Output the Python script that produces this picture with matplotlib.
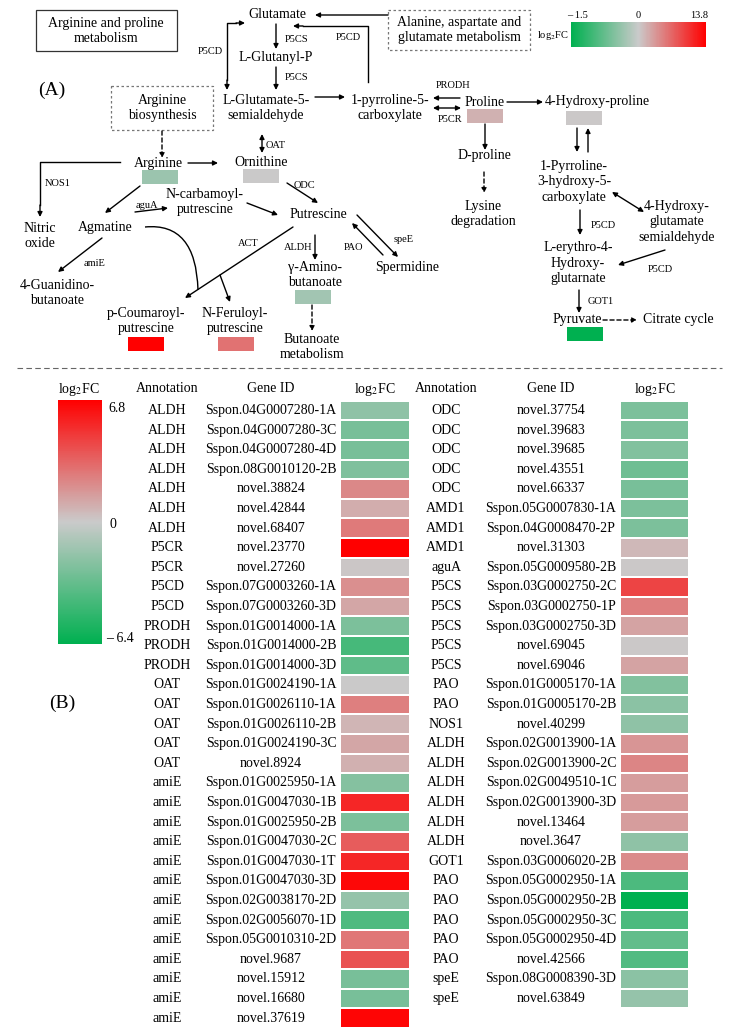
import numpy as np
import matplotlib
matplotlib.use("Agg")
import matplotlib.pyplot as plt
from matplotlib.colors import LinearSegmentedColormap, TwoSlopeNorm
from matplotlib.patches import Rectangle, PathPatch
from matplotlib.path import Path
from matplotlib.cm import ScalarMappable
import matplotlib.transforms as mtransforms

plt.rcParams['font.family'] = ['Liberation Serif', 'DejaVu Serif']
plt.rcParams['mathtext.fontset'] = 'stix'

# ---- data: table (B), left half
left_annot = ["ALDH"] * 7 + ["P5CR"] * 2 + ["P5CD"] * 2 + ["PRODH"] * 3 + ["OAT"] * 5 + ["amiE"] * 13
left_gene = ["Sspon.04G0007280-1A", "Sspon.04G0007280-3C", "Sspon.04G0007280-4D", "Sspon.08G0010120-2B",
             "novel.38824", "novel.42844", "novel.68407", "novel.23770", "novel.27260",
             "Sspon.07G0003260-1A", "Sspon.07G0003260-3D", "Sspon.01G0014000-1A", "Sspon.01G0014000-2B",
             "Sspon.01G0014000-3D", "Sspon.01G0024190-1A", "Sspon.01G0026110-1A", "Sspon.01G0026110-2B",
             "Sspon.01G0024190-3C", "novel.8924", "Sspon.01G0025950-1A", "Sspon.01G0047030-1B",
             "Sspon.01G0025950-2B", "Sspon.01G0047030-2C", "Sspon.01G0047030-1T", "Sspon.01G0047030-3D",
             "Sspon.02G0038170-2D", "Sspon.02G0056070-1D", "Sspon.05G0010310-2D", "novel.9687",
             "novel.15912", "novel.16680", "novel.37619"]
left_fc = [-1.9, -2.6, -2.6, -2.4, 2.2, 1.0, 2.7, 6.8, 0.15, 2.0, 1.2, -2.5, -4.2, -3.4, 0.0, 2.5,
           0.7, 1.2, 0.9, -2.2, 5.5, -2.5, 3.7, 5.5, 6.5, -1.7, -3.9, 2.8, 4.0, -2.6, -2.6, 6.6]

# ---- data: table (B), right half
right_annot = ["ODC"] * 5 + ["AMD1"] * 3 + ["aguA"] + ["P5CS"] * 5 + ["PAO"] * 2 + ["NOS1"] + \
              ["ALDH"] * 6 + ["GOT1"] + ["PAO"] * 5 + ["speE"] * 2
right_gene = ["novel.37754", "novel.39683", "novel.39685", "novel.43551", "novel.66337",
              "Sspon.05G0007830-1A", "Sspon.04G0008470-2P", "novel.31303", "Sspon.05G0009580-2B",
              "Sspon.03G0002750-2C", "Sspon.03G0002750-1P", "Sspon.03G0002750-3D", "novel.69045",
              "novel.69046", "Sspon.01G0005170-1A", "Sspon.01G0005170-2B", "novel.40299",
              "Sspon.02G0013900-1A", "Sspon.02G0013900-2C", "Sspon.02G0049510-1C", "Sspon.02G0013900-3D",
              "novel.13464", "novel.3647", "Sspon.03G0006020-2B", "Sspon.05G0002950-1A",
              "Sspon.05G0002950-2B", "Sspon.05G0002950-3C", "Sspon.05G0002950-4D", "novel.42566",
              "Sspon.08G0008390-3D", "novel.63849"]
right_fc = [-2.5, -2.5, -2.3, -2.9, -2.6, -2.5, -2.5, 0.6, 0.1, 4.5, 2.5, 1.3, 0.1, 1.3, -2.3, -2.0,
            -1.9, 1.8, 2.3, 1.5, 1.6, 1.5, -1.9, 2.1, -4.0, -6.4, -4.0, -3.3, -3.8, -2.0, -1.7]

# ---- data: metabolite boxes in the pathway (A)
met_names = ["Arginine", "Ornithine", "Proline", "4-Hydroxy-proline", "gamma-Aminobutanoate",
             "p-Coumaroyl-putrescine", "N-Feruloyl-putrescine", "Pyruvate"]
met_fc = [-0.35, 0.0, 1.7, 0.2, -0.3, 13.8, 6.0, -1.5]

cmap = LinearSegmentedColormap.from_list("gr", ["#00b050", "#cacaca", "#ff0000"])
norm_top = TwoSlopeNorm(vmin=-1.5, vcenter=0, vmax=13.8)
norm_tab = TwoSlopeNorm(vmin=-6.4, vcenter=0, vmax=6.8)

W, H = 730, 1036
fig = plt.figure(figsize=(W / 100, H / 100), dpi=100)
ax = fig.add_axes([0, 0, 1, 1])
ax.set_xlim(0, W)
ax.set_ylim(H, 0)
ax.axis('off')


def px(x0, y0, x1, y1):
    return [x0 / W, 1 - y1 / H, (x1 - x0) / W, (y1 - y0) / H]


def txt(x, y, s, size=10, **kw):
    ax.text(x, y, s, ha='center', va='center', fontsize=size, linespacing=1.25, **kw)


def arrow(p, q, style='-|>', ls='-'):
    ax.annotate('', xy=q, xytext=p,
                arrowprops=dict(arrowstyle=style, color='k', lw=1.0, linestyle=ls,
                                shrinkA=0, shrinkB=0, mutation_scale=7))


def line(xs, ys):
    ax.plot(xs, ys, color='k', lw=1.0)


# ---- pathway (A)
ax.add_patch(Rectangle((36, 10), 141, 41, fill=False, lw=0.9, ec='#333333'))
txt(106, 31, "Arginine and proline\nmetabolism")
ax.add_patch(Rectangle((388, 10), 142, 40, fill=False, lw=0.9, ec='#777777', ls=(0, (2, 2))))
txt(459, 30, "Alanine, aspartate and\nglutamate metabolism")
ax.add_patch(Rectangle((111, 86), 102, 44, fill=False, lw=0.9, ec='#777777', ls=(0, (2, 2))))
txt(162, 108, "Arginine\nbiosynthesis")
txt(52, 90, "(A)", size=14)

nodes = [
    (277, 15, "Glutamate"), (276, 58, "L-Glutanyl-P"), (266, 108, "L-Glutamate-5-\nsemialdehyde"),
    (390, 108, "1-pyrroline-5-\ncarboxylate"), (485, 102, "Proline"), (597, 102, "4-Hydroxy-proline"),
    (484, 155, "D-proline"), (483, 214, "Lysine\ndegradation"),
    (574, 182, "1-Pyrroline-\n3-hydroxy-5-\ncarboxylate"), (677, 222, "4-Hydroxy-\nglutamate\nsemialdehyde"),
    (578, 263, "L-erythro-4-\nHydroxy-\nglutarnate"), (577, 320, "Pyruvate"), (678, 320, "Citrate cycle"),
    (158, 163, "Arginine"), (261, 163, "Ornithine"), (205, 202, "N-carbamoyl-\nputrescine"),
    (318, 215, "Putrescine"), (105, 228, "Agmatine"), (40, 236, "Nitric\noxide"),
    (57, 293, "4-Guanidino-\nbutanoate"), (315, 275, "γ-Amino-\nbutanoate"), (407, 267, "Spermidine"),
    (146, 321, "p-Coumaroyl-\nputrescine"), (235, 321, "N-Feruloyl-\nputrescine"),
    (312, 347, "Butanoate\nmetabolism"),
]
for x, y, s in nodes:
    txt(x, y, s)

enzymes = [
    (297, 40, "P5CS"), (297, 78, "P5CS"), (210, 52, "P5CD"), (348, 38, "P5CD"), (453, 86, "PRODH"),
    (450, 119, "P5CR"), (276, 146, "OAT"), (58, 183, "NOS1"), (147, 206, "aguA"), (304, 185, "ODC"),
    (95, 264, "amiE"), (248, 244, "ACT"), (298, 248, "ALDH"), (354, 247, "PAO"), (404, 240, "speE"),
    (603, 225, "P5CD"), (660, 269, "P5CD"), (601, 302, "GOT1"),
]
for x, y, s in enzymes:
    txt(x, y, s, size=7.5)

# metabolite boxes
box_pos = {
    "Arginine": (142, 170), "Ornithine": (243, 169), "Proline": (467, 109),
    "4-Hydroxy-proline": (566, 111), "gamma-Aminobutanoate": (295, 290),
    "p-Coumaroyl-putrescine": (128, 337), "N-Feruloyl-putrescine": (218, 337), "Pyruvate": (567, 327),
}
for name, v in zip(met_names, met_fc):
    bx, by = box_pos[name]
    ax.add_patch(Rectangle((bx, by), 36, 14, facecolor=cmap(norm_top(v)), edgecolor='none'))

# arrows
arrow((276, 24), (276, 49))
arrow((276, 67), (276, 90))
line([236, 227, 227], [23, 23, 80])
arrow((236, 23), (245, 23))
arrow((227, 80), (227, 90))
line([368, 368, 303], [82, 26, 26])
arrow((303, 26), (293, 26))
arrow((388, 15), (315, 15))
arrow((315, 97), (345, 97))
arrow((460, 98), (433, 98))
arrow((433, 108), (461, 108), style='<|-|>')
arrow((507, 102), (543, 102))
arrow((485, 124), (485, 150))
arrow((484, 172), (484, 193), ls=(0, (3, 2)))
arrow((577, 128), (577, 152))
arrow((588, 152), (588, 128))
arrow((612, 192), (644, 212), style='<|-|>')
arrow((580, 210), (580, 235))
arrow((665, 250), (618, 265))
arrow((579, 290), (579, 313))
arrow((603, 320), (637, 320), ls=(0, (3, 2)))
arrow((162, 131), (162, 158), ls=(0, (3, 2)))
arrow((188, 163), (218, 163))
arrow((262, 134), (262, 153), style='<|-|>')
line([120, 40, 40], [162, 162, 205])
arrow((40, 205), (40, 217))
arrow((140, 186), (105, 213))
arrow((135, 212), (168, 208))
arrow((247, 203), (278, 215))
arrow((287, 183), (318, 203))
arrow((102, 238), (58, 272))
curve = Path([(145, 227), (196, 222), (198, 290)], [Path.MOVETO, Path.CURVE3, Path.CURVE3])
ax.add_patch(PathPatch(curve, fill=False, lw=1.0, ec='k'))
arrow((293, 227), (185, 298))
arrow((220, 275), (230, 302))
arrow((315, 235), (315, 260))
arrow((312, 305), (312, 331), ls=(0, (3, 2)))
arrow((383, 255), (352, 223))
arrow((357, 215), (398, 257))

# top colour bar
cax1 = fig.add_axes(px(571, 22, 706, 47))
cb1 = fig.colorbar(ScalarMappable(norm=norm_top, cmap=cmap), cax=cax1, orientation='horizontal')
cb1.outline.set_visible(False)
cax1.set_xticks([])
txt(553, 35, "log$_2$FC", size=7.5)
txt(578, 16, "– 1.5", size=7.5)
txt(638, 16, "0", size=7.5)
txt(699, 16, "13.8", size=7.5)

# separator
ax.plot([17, 722], [368, 368], color='#666666', lw=0.8, dashes=(5, 3))

# ---- table (B)
txt(62, 703, "(B)", size=14)
cax2 = fig.add_axes(px(58, 400, 102, 644))
cb2 = fig.colorbar(ScalarMappable(norm=norm_tab, cmap=cmap), cax=cax2)
cb2.outline.set_visible(False)
cax2.set_yticks([])
txt(79, 389, "log$_2$FC")
txt(117, 408, "6.8")
txt(113, 524, "0")
txt(120, 638, "– 6.4")

pitch = 19.6
top = 400.7
tables = [
    (left_annot, left_gene, left_fc, 167, 271, 340, 410, 375),
    (right_annot, right_gene, right_fc, 446, 551, 620, 689, 655),
]
for annot, gene, fc, xa, xg, x0, x1, xh in tables:
    n = len(fc)
    hax = fig.add_axes(px(x0, top, x1, top + n * pitch))
    hax.pcolormesh(np.array(fc).reshape(-1, 1), cmap=cmap, norm=norm_tab,
                   edgecolors='white', linewidth=1.2)
    hax.set_ylim(n, 0)
    hax.set_xlim(0, 1)
    hax.axis('off')
    tr = mtransforms.blended_transform_factory(ax.transData, hax.transData)
    for i, (a, g) in enumerate(zip(annot, gene)):
        ax.text(xa, i + 0.5, a, transform=tr, ha='center', va='center', fontsize=10)
        ax.text(xg, i + 0.5, g, transform=tr, ha='center', va='center', fontsize=10)
    txt(xa, 389, "Annotation")
    txt(xg, 389, "Gene ID")
    txt(xh, 389, "log$_2$FC")

fig.savefig("out.png", dpi=100)
